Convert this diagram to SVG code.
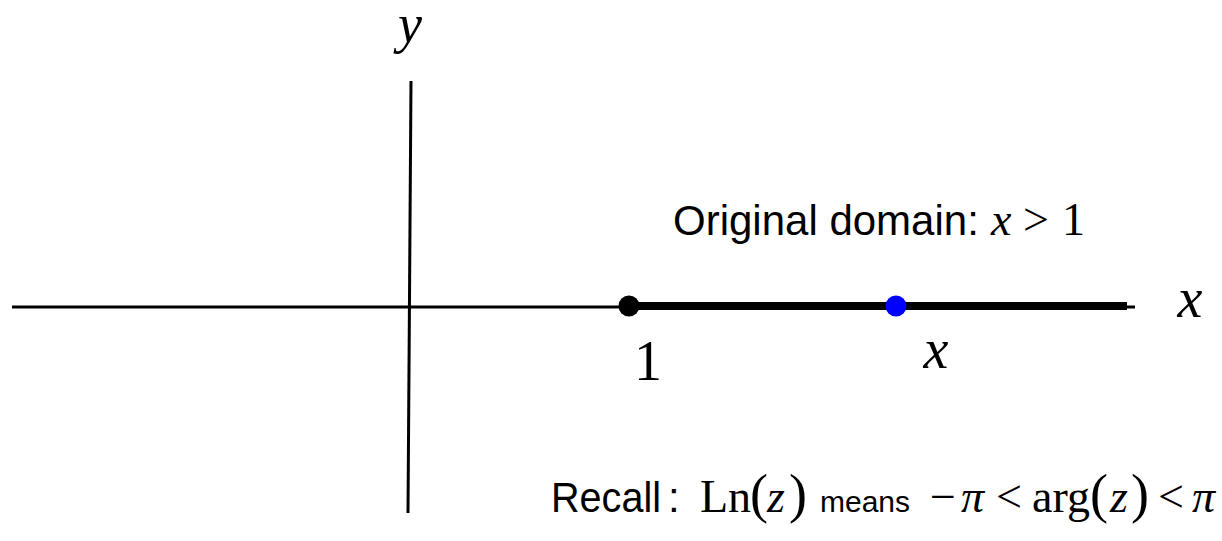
<svg xmlns="http://www.w3.org/2000/svg" width="1222" height="541" viewBox="0 0 1222 541">
<style>
.ax{stroke:#000;stroke-width:3;fill:none}
.thick{stroke:#000;stroke-width:8;fill:none}
.ti{font-family:"Liberation Serif","Times New Roman",serif;font-style:italic;fill:#000}
.tr{font-family:"Liberation Serif","Times New Roman",serif;fill:#000}
.sa{font-family:"Liberation Sans",Arial,sans-serif;fill:#000}
</style>
<rect width="1222" height="541" fill="#fff"/>
<g id="connectors">
<line class="ax" x1="12" y1="307" x2="1135" y2="307"/>
<line class="ax" x1="411" y1="81" x2="408" y2="513"/>
<line class="thick" x1="629" y1="306" x2="1127" y2="306"/>
</g>
<g id="point-one">
<circle cx="629" cy="306" r="10.5" fill="#000"/>
<text class="tr" x="648" y="380" font-size="56" text-anchor="middle">1</text>
</g>
<g id="point-x">
<circle cx="896" cy="306" r="10.5" fill="#0000ff"/>
<text class="ti" x="936" y="368" font-size="56" text-anchor="middle">x</text>
</g>
<g id="axis-labels">
<text class="ti" x="410" y="42" font-size="54" text-anchor="middle">y</text>
<text class="ti" x="1190" y="317" font-size="56" text-anchor="middle">x</text>
</g>
<g id="domain-label">
<text y="235"><tspan class="sa" x="673" font-size="42">Original domain:</tspan><tspan class="ti" x="991" font-size="46">x</tspan><tspan class="tr" x="1023" font-size="46">&gt;</tspan><tspan class="tr" x="1062" font-size="46">1</tspan></text>
</g>
<g id="recall-label">
<text y="512"><tspan class="sa" x="551" font-size="42" textLength="110" lengthAdjust="spacingAndGlyphs">Recall</tspan><tspan class="sa" x="668" font-size="42">:</tspan><tspan class="tr" x="700" font-size="46">Ln</tspan><tspan class="tr" x="750" font-size="54">(</tspan><tspan class="ti" x="767" font-size="46">z</tspan><tspan class="tr" x="789" font-size="54">)</tspan><tspan class="sa" x="820" font-size="30">means</tspan><tspan class="tr" x="930" font-size="46">−</tspan><tspan class="ti" x="961" font-size="46">π</tspan><tspan class="tr" x="996" font-size="46">&lt;</tspan><tspan class="tr" x="1032" font-size="46">arg</tspan><tspan class="tr" x="1090" font-size="54">(</tspan><tspan class="ti" x="1110" font-size="46">z</tspan><tspan class="tr" x="1131" font-size="54">)</tspan><tspan class="tr" x="1158" font-size="46">&lt;</tspan><tspan class="ti" x="1192" font-size="46">π</tspan></text>
</g>
</svg>
